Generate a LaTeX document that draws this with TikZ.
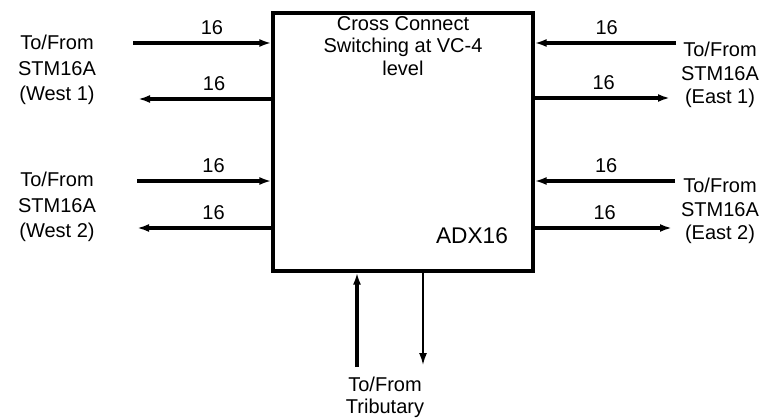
\documentclass[tikz,border=0pt]{standalone}
\usepackage{fontspec}
\setmainfont{Liberation Sans}
\usetikzlibrary{arrows.meta}
\begin{document}
\begin{tikzpicture}[x=0.75pt,y=-0.75pt,
    line width=2.4pt,
    >={Latex[length=9pt,width=6pt]},
    lbl/.style={align=center,font=\fontsize{15}{19}\selectfont},
    num/.style={font=\fontsize{15}{17}\selectfont,above=2pt,pos=0.57}]
    \useasboundingbox (0,0) rectangle (784,417);

    % Главный блок
    \node[draw,minimum width=195pt,minimum height=193.5pt,inner sep=0pt] (adx) at (403,142) {};
    \node[lbl,font=\fontsize{15}{17}\selectfont] (title) at (403,46) {Cross Connect\\Switching at VC-4\\level};
    \node[font=\fontsize{17}{20}\selectfont] (name) at (472,236) {ADX16};

    % Подписи слева и справа
    \node[lbl] (west1) at (57,70) {To/From\\STM16A\\(West 1)};
    \node[lbl] (west2) at (57,207) {To/From\\STM16A\\(West 2)};
    \node[lbl,font=\fontsize{15}{17.6}\selectfont] (east1) at (720,75) {To/From\\STM16A\\(East 1)};
    \node[lbl,font=\fontsize{15}{17.6}\selectfont] (east2) at (720,211) {To/From\\STM16A\\(East 2)};

    % Свободные концы стрелок
    \coordinate (w1a) at (133,43); \coordinate (w1b) at (138,99);
    \coordinate (w2a) at (137,181); \coordinate (w2b) at (137,228);
    \coordinate (e1a) at (676,43); \coordinate (e1b) at (670,98);
    \coordinate (e2a) at (675,181); \coordinate (e2b) at (672,228);

    % Запад
    \draw[->] (w1a) -- (w1a -| adx.west) node[num] {16};
    \draw[->] (w1b -| adx.west) -- (w1b) node[num,pos=0.43] {16};
    \draw[->] (w2a) -- (w2a -| adx.west) node[num] {16};
    \draw[->] (w2b -| adx.west) -- (w2b) node[num,pos=0.43] {16};

    % Восток
    \draw[->] (e1a) -- (e1a -| adx.east) node[num,pos=0.49] {16};
    \draw[->] (e1b -| adx.east) -- (e1b) node[num,pos=0.51] {16};
    \draw[->] (e2a) -- (e2a -| adx.east) node[num,pos=0.49] {16};
    \draw[->] (e2b -| adx.east) -- (e2b) node[num,pos=0.51] {16};

    % Трибутарные потоки
    \node[lbl,font=\fontsize{15}{16.5}\selectfont] (trib) at (385,397) {To/From\\Tributary};
    \coordinate (tup) at (357,367);
    \coordinate (tdn) at (423,365);
    \draw[->] (tup) -- (tup |- adx.south);
    \draw[->,line width=1.3pt] (tdn |- adx.south) -- (tdn);

\end{tikzpicture}
\end{document}
